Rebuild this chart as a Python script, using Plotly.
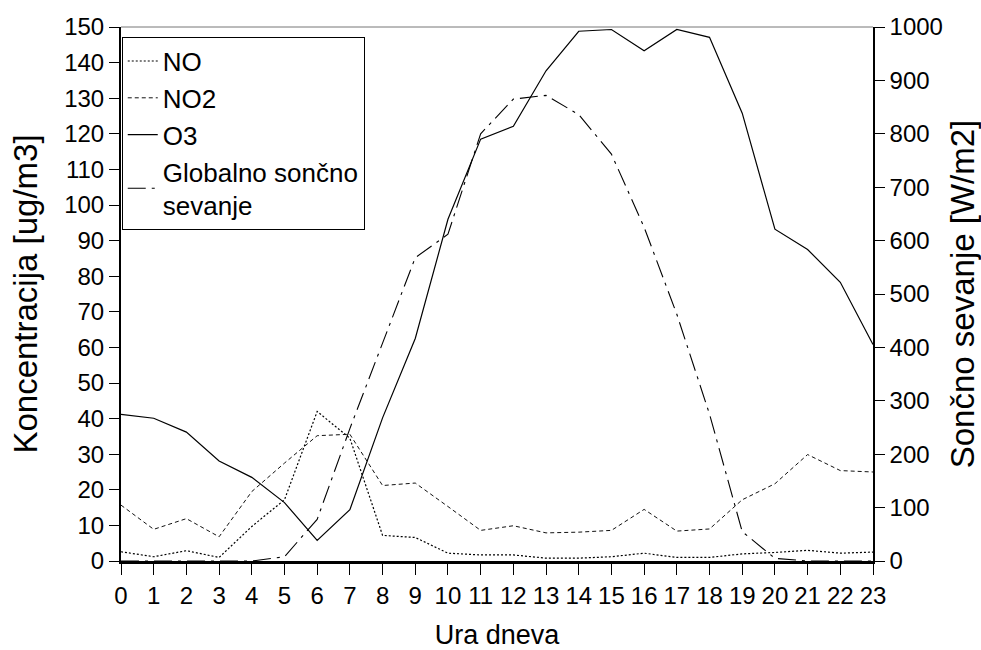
import plotly.graph_objects as go

# Hourly averages (hour of day 0..23)
hours = list(range(24))
no_vals = [2.6, 1.2, 2.9, 1.0, 9.7, 17.2, 42.0, 34.5, 7.2, 6.6, 2.2, 1.7,
           1.7, 0.8, 0.8, 1.2, 2.2, 1.0, 1.0, 2.0, 2.4, 3.0, 2.2, 2.5]
no2_vals = [15.7, 8.9, 11.9, 6.8, 19.5, 27.5, 35.2, 35.6, 21.2, 21.9, 15.3, 8.6,
            9.9, 7.9, 8.1, 8.6, 14.5, 8.4, 9.0, 17.2, 21.7, 29.9, 25.4, 25.0]
o3_vals = [41.2, 40.1, 36.2, 28.1, 23.5, 16.4, 5.8, 14.4, 40.2, 62.5, 96.0, 118.5,
           122.1, 137.7, 148.8, 149.3, 143.3, 149.3, 147.1, 125.8, 93.2, 87.5, 78.3, 60.8]
rad_vals = [0, 0, 0, 0, 0, 8, 78, 248, 410, 568, 612, 800,
            865, 872, 836, 762, 625, 462, 275, 55, 5, 0, 0, 0]

y_ticks = list(range(0, 151, 10))
y2_ticks = list(range(0, 1001, 100))

FONT = "Liberation Sans, Arial, sans-serif"

fig = go.Figure()
fig.add_trace(go.Scatter(x=hours, y=no_vals, name="NO", mode="lines",
                         line=dict(color="#000", width=1.2, dash="2px,2px"),
                         legendgroup="a"))
fig.add_trace(go.Scatter(x=hours, y=no2_vals, name="NO2", mode="lines",
                         line=dict(color="#111", width=1, dash="4px,3px"),
                         legendgroup="b"))
fig.add_trace(go.Scatter(x=hours, y=o3_vals, name="O3", mode="lines",
                         line=dict(color="#000", width=1.2),
                         legendgroup="c"))
fig.add_trace(go.Scatter(x=hours, y=rad_vals, name="Globalno sončno<br>sevanje",
                         mode="lines", yaxis="y2",
                         line=dict(color="#000", width=1.1, dash="18px,6px,3px,6px"),
                         legendgroup="d"))

fig.update_layout(
    width=981, height=650,
    margin=dict(l=121, r=108, t=27, b=89, autoexpand=False),
    paper_bgcolor="white", plot_bgcolor="white",
    font=dict(family=FONT, size=24, color="#000"),
    showlegend=True,
    legend=dict(x=0.001, y=0.982, xanchor="left", yanchor="top",
                bgcolor="white", bordercolor="#000", borderwidth=1,
                font=dict(size=26), tracegroupgap=0, itemwidth=30),
    xaxis=dict(range=[0, 23], tickmode="array", tickvals=hours,
               ticktext=[str(h) for h in hours], automargin=False,
               showgrid=False, zeroline=False,
               showline=True, linecolor="#000", linewidth=2.5,
               ticks="outside", ticklen=11, tickwidth=1, tickcolor="#000",
               title=dict(text="Ura dneva", font=dict(size=27), standoff=18)),
    yaxis=dict(range=[0, 150], tickmode="array", tickvals=y_ticks,
               showgrid=False, zeroline=False, automargin=False,
               showline=True, linecolor="#000", linewidth=2,
               ticks="outside", ticklen=10, tickwidth=1, tickcolor="#000",
               title=dict(text="Koncentracija [ug/m3]", font=dict(size=33), standoff=17)),
    yaxis2=dict(range=[0, 1000], tickmode="array", tickvals=y2_ticks,
                overlaying="y", side="right", automargin=False,
                showgrid=False, zeroline=False,
                showline=True, linecolor="#000", linewidth=1.5,
                ticks="outside", ticklen=10, tickwidth=1, tickcolor="#000",
                title=dict(text="Sončno sevanje [W/m2]", font=dict(size=33), standoff=12)),
    shapes=[dict(type="line", xref="paper", yref="paper", x0=0, x1=1, y0=1, y1=1,
                 line=dict(color="#777", width=1))],
)

fig.write_html("out.html")
